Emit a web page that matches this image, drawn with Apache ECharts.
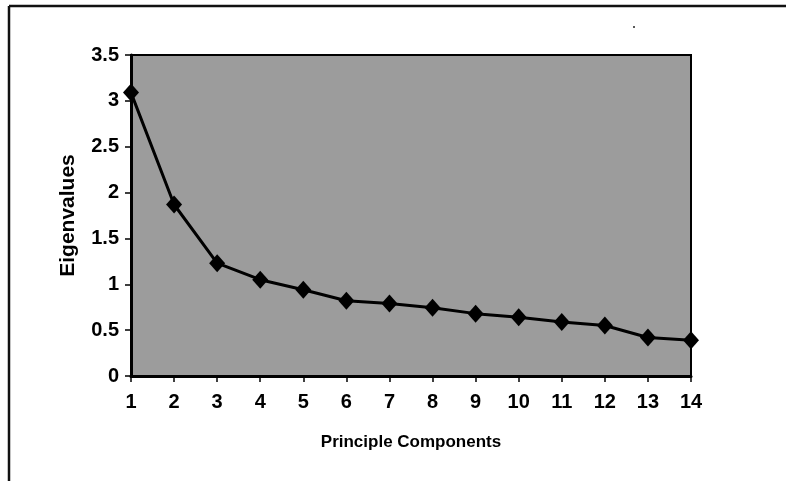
<!DOCTYPE html>
<html><head><meta charset="utf-8">
<script src="https://cdn.jsdelivr.net/npm/echarts@6/dist/echarts.min.js"></script>
<style>html,body{margin:0;padding:0;background:#fff}#c{width:786px;height:481px}</style>
</head><body><div id="c"></div>
<script>
const categories = ['1','2','3','4','5','6','7','8','9','10','11','12','13','14'];
const eigenvalues = [3.09, 1.87, 1.23, 1.05, 0.94, 0.82, 0.79, 0.745, 0.68, 0.64, 0.59, 0.55, 0.42, 0.39];
const yTicks = [0, 0.5, 1, 1.5, 2, 2.5, 3, 3.5];

const chart = echarts.init(document.getElementById('c'), null, {renderer: 'canvas'});
const font = 'Arial, "Liberation Sans", sans-serif';
chart.setOption({
  animation: false,
  grid: {left: 131, top: 55, right: 95, bottom: 105, show: true, backgroundColor: '#9c9c9c', borderColor: '#000', borderWidth: 2},
  graphic: [
    {type: 'line', shape: {x1: 9, y1: 6, x2: 786, y2: 6}, style: {stroke: '#111', lineWidth: 2.5}},
    {type: 'line', shape: {x1: 9, y1: 6, x2: 9, y2: 481}, style: {stroke: '#111', lineWidth: 2.5}},
    {type: 'circle', shape: {cx: 634, cy: 27, r: 1}, style: {fill: '#222'}}
  ],
  xAxis: {
    type: 'category', data: categories, boundaryGap: false,
    name: 'Principle Components', nameLocation: 'middle', nameGap: 58,
    nameTextStyle: {fontFamily: font, fontWeight: 'bold', fontSize: 17, color: '#000'},
    axisLine: {lineStyle: {color: '#000', width: 3}},
    axisTick: {show: true, length: 6, lineStyle: {color: '#000', width: 1.5}},
    axisLabel: {fontFamily: font, fontWeight: 'bold', fontSize: 20, color: '#000', margin: 16}
  },
  yAxis: {
    type: 'value', min: 0, max: 3.5, interval: 0.5,
    name: 'Eigenvalues', nameLocation: 'middle', nameGap: 52, nameRotate: 90,
    nameTextStyle: {fontFamily: font, fontWeight: 'bold', fontSize: 21, color: '#000'},
    axisLine: {show: true, lineStyle: {color: '#000', width: 3}},
    axisTick: {show: true, length: 6, lineStyle: {color: '#000', width: 1.5}},
    splitLine: {show: false},
    axisLabel: {fontFamily: font, fontWeight: 'bold', fontSize: 20, color: '#000', margin: 12,
      formatter: v => String(yTicks.find(t => Math.abs(t - v) < 1e-9) ?? v)}
  },
  series: [{
    type: 'line', data: eigenvalues,
    symbol: 'diamond', symbolSize: [16, 18],
    lineStyle: {color: '#000', width: 3},
    itemStyle: {color: '#000'}
  }]
});
</script></body></html>
